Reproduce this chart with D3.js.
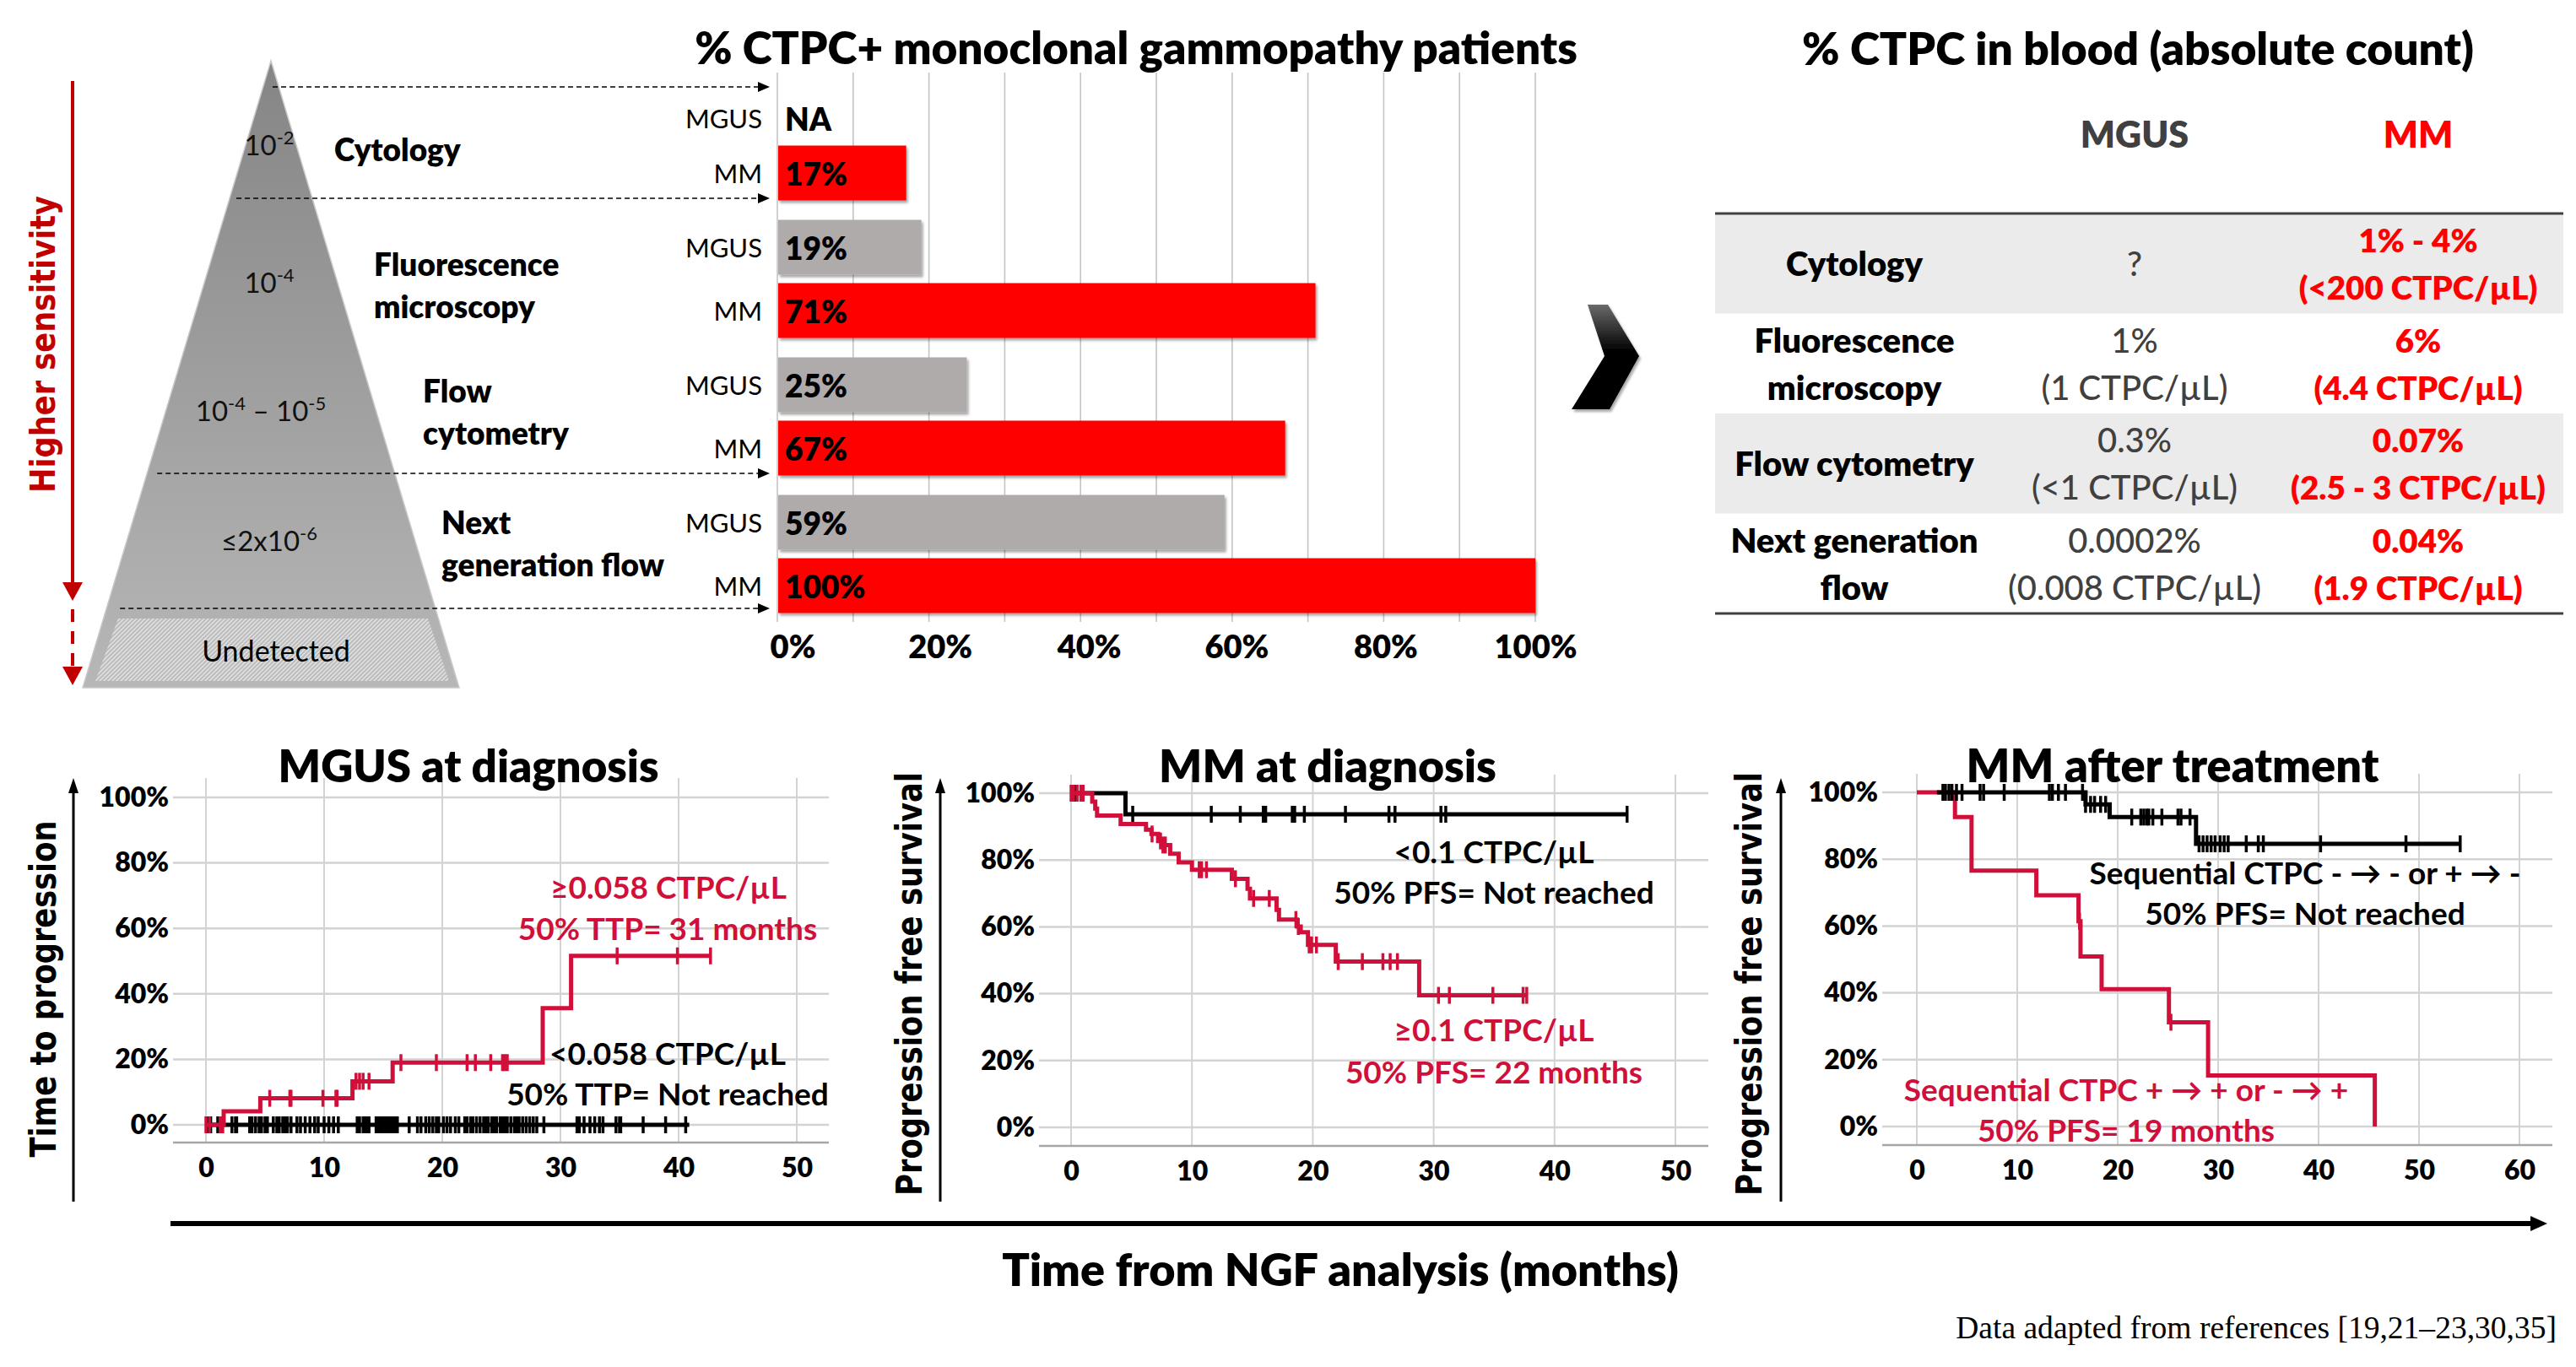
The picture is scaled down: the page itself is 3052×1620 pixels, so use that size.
<!DOCTYPE html>
<html>
<head>
<meta charset="utf-8">
<script src="https://cdn.jsdelivr.net/npm/d3@7"></script>
<style>
  html, body { margin: 0; padding: 0; background: #fff; }
  svg { display: block; }
</style>
</head>
<body>
<svg id="fig"></svg>
<script>
// ---------- data ----------
const methods = ["Cytology", "Fluorescence microscopy", "Flow cytometry", "Next generation flow"];
const groups = ["MGUS", "MM"];
const pctMGUS = [null, 19, 25, 59];
const pctMM = [17, 71, 67, 100];
const barTicks = [0, 20, 40, 60, 80, 100];

// pyramid sensitivity labels ([text, superscript?])
const sensLabels = [
  [["10", 0], ["-2", 1]],
  [["10", 0], ["-4", 1]],
  [["10", 0], ["-4", 1], [" \u2013 10", 0], ["-5", 1]],
  [["\u22642x10", 0], ["-6", 1]]
];
const methodLines = [["Cytology"], ["Fluorescence", "microscopy"], ["Flow", "cytometry"], ["Next", "generation flow"]];

// table
const tableHeader = ["MGUS", "MM"];
const tableRowLabels = [["Cytology"], ["Fluorescence", "microscopy"], ["Flow cytometry"], ["Next generation", "flow"]];
const tableMGUS = [["?"], ["1%", "(1 CTPC/\u00b5L)"], ["0.3%", "(<1 CTPC/\u00b5L)"], ["0.0002%", "(0.008 CTPC/\u00b5L)"]];
const tableMM = [["1% - 4%", "(<200 CTPC/\u00b5L)"], ["6%", "(4.4 CTPC/\u00b5L)"], ["0.07%", "(2.5 - 3 CTPC/\u00b5L)"], ["0.04%", "(1.9 CTPC/\u00b5L)"]];

// MGUS at diagnosis (cumulative progression, %)
const mgusHighSteps = [[0, 0], [1.5, 4.1], [4.6, 8.1], [12.4, 13.3], [15.8, 19.0], [28.5, 35.6], [30.9, 51.6]];
const mgusHighEnd = 42.7;
const mgusHighCensor = [0, 0.3, 1.2, 1.4, 5.4, 7.1, 7.2, 9.9, 11.0, 11.1, 12.7, 13.0, 13.3, 13.8, 16.5, 19.5, 22.1, 22.8, 24.1, 25.1, 25.3, 25.5, 34.8, 39.9, 42.7];
const mgusLowSteps = [[0, 0]];
const mgusLowEnd = 40.9;
const mgusLowCensor = [0.2, 0.4, 1.0, 1.2, 1.4, 2.2, 2.5, 2.6, 3.7, 3.9, 4.2, 4.5, 4.7, 5.0, 5.2, 5.7, 6.0, 6.2, 6.5, 6.7, 6.9, 7.2,
  7.7, 8.0, 8.4, 8.8, 9.2, 9.5, 10.0, 10.4, 10.8, 11.2, 12.8, 13.0, 13.3, 13.4, 13.6, 13.8, 14.4, 14.6, 14.7, 14.9, 15.0, 15.2,
  15.3, 15.4, 15.6, 15.7, 15.9, 16.0, 16.2, 17.2, 17.9, 18.2, 18.6, 18.9, 19.2, 19.5, 19.7, 20.1, 20.4, 20.7, 21.1, 21.4, 21.9,
  22.1, 22.4, 22.6, 22.9, 23.2, 23.5, 23.7, 23.9, 24.2, 24.4, 24.6, 24.9, 25.1, 25.3, 25.5, 25.8, 26.1, 26.3, 26.5, 26.8, 27.1,
  27.4, 27.7, 28.0, 28.6, 31.4, 31.6, 32.0, 32.5, 32.9, 33.3, 33.6, 34.7, 35.0, 35.1, 37.0, 38.9, 40.6];

// MM at diagnosis (PFS, %)
const mmDxHighSteps = [[0, 100], [1.75, 97.5], [2.0, 95.4], [2.15, 93.3], [4.1, 90.8], [6.2, 89.1], [6.65, 87.8], [7.2, 85.7],
  [7.5, 84.5], [8.2, 81.9], [8.9, 79.3], [10.0, 77.1], [13.3, 74.4], [14.6, 71.4], [14.8, 68.5], [17.0, 65.1], [17.2, 62.2],
  [18.7, 60.1], [19.0, 58.4], [19.6, 54.6], [21.9, 49.6], [28.8, 39.5]];
const mmDxHighEnd = 37.7;
const mmDxHighCensor = [0, 0.2, 0.5, 0.8, 1.0, 6.7, 7.4, 7.6, 7.8, 10.6, 10.8, 11.2, 13.6, 15.1, 16.4, 18.6, 18.8, 19.7, 19.9,
  20.3, 22.1, 24.1, 25.8, 26.4, 27.0, 30.4, 31.3, 34.9, 37.4, 37.7];
const mmDxLowSteps = [[0, 100], [4.5, 93.7]];
const mmDxLowEnd = 46.0;
const mmDxLowCensor = [0.1, 0.3, 5.1, 11.6, 14.0, 15.9, 16.1, 18.3, 18.5, 19.3, 22.7, 26.3, 26.8, 30.6, 31.0, 46.0];

// MM after treatment (PFS, %)
const mmTxPosSteps = [[0, 100], [3.8, 92.6], [5.45, 76.6], [11.9, 69.2], [16.1, 61.4], [16.3, 50.9], [18.4, 41.1], [25.1, 31.2],
  [29.0, 15.3], [45.6, 0]];
const mmTxPosEnd = 45.6;
const mmTxPosCensor = [16.2, 25.3];
const mmTxNegSteps = [[2.0, 100], [16.8, 96.4], [19.2, 92.6], [27.8, 84.6]];
const mmTxNegEnd = 54.1;
const mmTxNegCensor = [2.6, 2.85, 3.2, 3.5, 3.95, 4.5, 6.3, 6.65, 8.7, 13.2, 13.5, 14.1, 14.8, 16.5, 16.8, 17.3, 17.7, 18.3,
  18.8, 21.4, 22.3, 22.6, 22.9, 23.1, 23.5, 24.4, 26.0, 26.3, 27.2, 28.1, 28.5, 28.9, 29.3, 29.7, 30.2, 30.6, 31.0, 32.8, 34.0,
  34.5, 40.2, 48.7, 54.1];

// ---------- setup ----------
const W = 3052, H = 1620;
const SANS = "Lato, 'Open Sans', 'DejaVu Sans', sans-serif";
const WIDE = "'DejaVu Sans', Verdana, sans-serif";
const BOLD = 800;
const RED = "#FF0000";
const KM_RED = "#D0103A";
const DARK_RED = "#C00000";

const svg = d3.select("#fig").attr("width", W).attr("height", H);
svg.append("rect").attr("width", W).attr("height", H).attr("fill", "#fff");
const defs = svg.append("defs");

setDefs();
drawPyramid();
drawBars();
drawChevron();
drawTable();
drawKM({
  title: "MGUS at diagnosis", titleX: 555, titleW: 451, yLabel: "Time to progression", yLabelX: 51, yLabelY: 1172, yLabelLen: 399,
  arrowX: 87, xMax: 50, xRange: [244, 944], yRange: [1333, 945], left: 205, right: 982, gridTop: 922, axisY: 1354,
  curves: [
    { steps: mgusLowSteps, end: mgusLowEnd, censor: mgusLowCensor, color: "#000" },
    { steps: mgusHighSteps, end: mgusHighEnd, censor: mgusHighCensor, color: KM_RED }
  ],
  notes: [
    ["\u22650.058 CTPC/\u00b5L", 792, 1050, KM_RED], ["50% TTP= 31 months", 791, 1099, KM_RED],
    ["<0.058 CTPC/\u00b5L", 791, 1247, "#000"], ["50% TTP= Not reached", 791, 1295, "#000"]
  ]
});
drawKM({
  title: "MM at diagnosis", titleX: 1573, titleW: 400, yLabel: "Progression free survival", yLabelX: 1077, yLabelY: 1166, yLabelLen: 502,
  arrowX: 1114, xMax: 50, xRange: [1269, 1985], yRange: [1336, 940], left: 1231, right: 2024, gridTop: 918, axisY: 1358,
  curves: [
    { steps: mmDxLowSteps, end: mmDxLowEnd, censor: mmDxLowCensor, color: "#000" },
    { steps: mmDxHighSteps, end: mmDxHighEnd, censor: mmDxHighCensor, color: KM_RED }
  ],
  notes: [
    ["<0.1 CTPC/\u00b5L", 1770, 1008, "#000"], ["50% PFS= Not reached", 1770, 1056, "#000"],
    ["\u22650.1 CTPC/\u00b5L", 1770, 1219, KM_RED], ["50% PFS= 22 months", 1770, 1269, KM_RED]
  ]
});
drawKM({
  title: "MM after treatment", titleX: 2574, titleW: 489, yLabel: "Progression free survival", yLabelX: 2072, yLabelY: 1166, yLabelLen: 502,
  arrowX: 2110, xMax: 60, xRange: [2271, 2985], yRange: [1335, 939], left: 2230, right: 3024, gridTop: 917, axisY: 1357,
  curves: [
    { steps: mmTxPosSteps, end: mmTxPosEnd, censor: mmTxPosCensor, color: KM_RED },
    { steps: mmTxNegSteps, end: mmTxNegEnd, censor: mmTxNegCensor, color: "#000" }
  ],
  notes: [
    ["Sequential CTPC - \u2192 - or + \u2192 -", 2731, 1033, "#000"], ["50% PFS= Not reached", 2731, 1081, "#000"],
    ["Sequential CTPC + \u2192 + or - \u2192 +", 2519, 1290, KM_RED], ["50% PFS= 19 months", 2519, 1338, KM_RED]
  ]
});
drawFooter();

// scale a text's font size so that it spans the given width
function fitWidth(sel, target) {
  const w = sel.node().getComputedTextLength();
  if (w > 0) sel.attr("font-size", +sel.attr("font-size") * target / w);
  return sel;
}

// ---------- pieces ----------
function setDefs() {
  const pg = defs.append("linearGradient").attr("id", "pyr").attr("x1", 0).attr("y1", 0).attr("x2", 0).attr("y2", 1);
  pg.append("stop").attr("offset", "0%").attr("stop-color", "#858585");
  pg.append("stop").attr("offset", "100%").attr("stop-color", "#b7b7b7");

  const hatch = defs.append("pattern").attr("id", "hatch").attr("patternUnits", "userSpaceOnUse")
    .attr("width", 5).attr("height", 5);
  hatch.append("rect").attr("width", 5).attr("height", 5).attr("fill", "#bcbcbc");
  hatch.append("path").attr("d", "M0,5 L5,0 M-1,1 L1,-1 M4,6 L6,4")
    .attr("stroke", "#e4e4e4").attr("stroke-width", 1.4);

  const cg = defs.append("linearGradient").attr("id", "chev").attr("x1", 0).attr("y1", 0).attr("x2", 0).attr("y2", 1);
  cg.append("stop").attr("offset", "0%").attr("stop-color", "#6a6a6a");
  cg.append("stop").attr("offset", "45%").attr("stop-color", "#000");
  cg.append("stop").attr("offset", "100%").attr("stop-color", "#000");

  const f = defs.append("filter").attr("id", "shadow").attr("x", "-5%").attr("y", "-10%").attr("width", "115%").attr("height", "130%");
  f.append("feDropShadow").attr("dx", 2).attr("dy", 3).attr("stdDeviation", 1.8).attr("flood-opacity", 0.35);
}

function drawPyramid() {
  const g = svg.append("g");
  const apex = [321, 72], baseY = 815, baseL = 98, baseR = 544;
  const edgeL = y => apex[0] - (y - apex[1]) / (baseY - apex[1]) * (apex[0] - baseL);

  // higher sensitivity arrow
  g.append("line").attr("x1", 86).attr("x2", 86).attr("y1", 96).attr("y2", 694)
    .attr("stroke", DARK_RED).attr("stroke-width", 4);
  g.append("path").attr("d", "M74,690 L98,690 L86,712 Z").attr("fill", DARK_RED);
  g.append("line").attr("x1", 86).attr("x2", 86).attr("y1", 722).attr("y2", 792)
    .attr("stroke", DARK_RED).attr("stroke-width", 4).attr("stroke-dasharray", "15,11");
  g.append("path").attr("d", "M74,790 L98,790 L86,812 Z").attr("fill", DARK_RED);
  g.append("text").attr("transform", "translate(51,408) rotate(-90)")
    .attr("text-anchor", "middle").attr("dominant-baseline", "central")
    .attr("font-family", WIDE).attr("font-weight", "bold").attr("font-size", 41)
    .attr("textLength", 352).attr("lengthAdjust", "spacingAndGlyphs")
    .attr("fill", DARK_RED).text("Higher sensitivity");

  // triangle
  g.append("path").attr("d", `M${apex[0]},${apex[1]} L${baseR},${baseY} L${baseL},${baseY} Z`)
    .attr("fill", "url(#pyr)").attr("stroke", "#c9c9c9").attr("stroke-width", 1.5);
  g.append("path").attr("d", "M140,733 L507,733 L532,807 L113,807 Z").attr("fill", "url(#hatch)");
  g.append("text").attr("x", 327).attr("y", 770).attr("text-anchor", "middle").attr("dominant-baseline", "central")
    .attr("font-family", SANS).attr("font-size", 34).text("Undetected");

  // dashed arrows to the bars
  const dashY = [103, 235, 561, 721];
  g.selectAll(".dash").data(dashY).join("line").attr("class", "dash")
    .attr("x1", (d, i) => i === 0 ? apex[0] + 2 : edgeL(d) + 4 + i * 4).attr("x2", 900)
    .attr("y1", d => d).attr("y2", d => d)
    .attr("stroke", "#000").attr("stroke-width", 1.6).attr("stroke-dasharray", "6,4");
  g.selectAll(".dhead").data(dashY).join("path").attr("class", "dhead")
    .attr("d", d => `M898,${d - 6} L912,${d} L898,${d + 6} Z`).attr("fill", "#000");

  // sensitivity labels inside the pyramid
  const sensPos = [[319, 173], [319, 336], [309, 488], [319, 642]];
  sensLabels.forEach((parts, i) => {
    const t = g.append("text").attr("x", sensPos[i][0]).attr("y", sensPos[i][1] + 11)
      .attr("text-anchor", "middle").attr("font-family", SANS).attr("font-size", 33).attr("fill", "#111");
    let up = false;
    parts.forEach(p => {
      const sp = t.append("tspan").text(p[0]);
      if (p[1] && !up) { sp.attr("dy", -13).attr("font-size", 22); up = true; }
      else if (p[1]) { sp.attr("font-size", 22); }
      else if (up) { sp.attr("dy", 13); up = false; }
    });
  });

  // method names
  const methodPos = [[396, 176], [443, 312], [501, 462], [523, 618]];
  methodLines.forEach((lines, i) => {
    lines.forEach((l, j) => {
      g.append("text").attr("x", methodPos[i][0]).attr("y", methodPos[i][1] + j * 50)
        .attr("dominant-baseline", "central").attr("font-family", SANS).attr("font-weight", BOLD)
        .attr("font-size", 37).attr("fill", "#000").text(l);
    });
  });
}

function drawBars() {
  const g = svg.append("g");
  const x = d3.scaleLinear().domain([0, 100]).range([921, 1819]);
  const yG = d3.scaleBand().domain(methods).range([86, 738]);
  const yIn = d3.scalePoint().domain(groups).range([-37.5, 37.5]);
  const barH = 65;

  fitWidth(g.append("text").attr("x", 1346).attr("y", 55).attr("text-anchor", "middle").attr("dominant-baseline", "central")
    .attr("font-family", SANS).attr("font-weight", BOLD).attr("font-size", 52)
    .text("% CTPC+ monoclonal gammopathy patients"), 1046);

  g.selectAll(".grid").data(d3.range(0, 101, 10)).join("line").attr("class", "grid")
    .attr("x1", d => x(d)).attr("x2", d => x(d)).attr("y1", 86).attr("y2", 737)
    .attr("stroke", "#c4c4c4").attr("stroke-width", 1.6);

  const rows = [];
  methods.forEach((m, i) => {
    rows.push({ m, grp: "MGUS", v: pctMGUS[i] });
    rows.push({ m, grp: "MM", v: pctMM[i] });
  });
  // the "NA" row sits a little lower, as there is no bar
  const cy = d => yG(d.m) + yG.bandwidth() / 2 + yIn(d.grp) + (d.v === null ? 10 : 0);

  g.selectAll(".bar").data(rows.filter(d => d.v !== null)).join("rect").attr("class", "bar")
    .attr("x", x(0) + 1).attr("y", d => cy(d) - barH / 2)
    .attr("width", d => x(d.v) - x(0) - 1).attr("height", barH)
    .attr("fill", d => d.grp === "MM" ? RED : "#AFABAB").attr("filter", "url(#shadow)");

  g.selectAll(".val").data(rows).join("text").attr("class", "val")
    .attr("x", x(0) + 9).attr("y", d => cy(d)).attr("dominant-baseline", "central")
    .attr("font-family", SANS).attr("font-weight", BOLD).attr("font-size", 37).attr("fill", "#000")
    .text(d => d.v === null ? "NA" : d.v + "%");

  g.selectAll(".grp").data(rows).join("text").attr("class", "grp")
    .attr("x", 903).attr("y", d => cy(d)).attr("text-anchor", "end").attr("dominant-baseline", "central")
    .attr("font-family", SANS).attr("font-size", 31).attr("fill", "#000").text(d => d.grp);

  const ax = g.append("g").attr("transform", "translate(0,737)")
    .call(d3.axisBottom(x).tickValues(barTicks).tickSize(0).tickPadding(16).tickFormat(d => d + "%"));
  ax.select(".domain").remove();
  ax.selectAll("text").attr("font-family", SANS).attr("font-weight", BOLD).attr("font-size", 38)
    .attr("fill", "#000").attr("dx", (d, i) => [18, 13, 10, 5, 2, 0][i]);
}

function drawChevron() {
  svg.append("path").attr("d", "M1881,361 L1905,361 L1942,422 L1907,485 L1862,485 L1901,422 Z")
    .attr("fill", "url(#chev)").attr("filter", "url(#shadow)");
}

function drawTable() {
  const g = svg.append("g");
  const colX = [2197, 2529, 2865];
  const y = d3.scaleBand().domain(methods).range([253, 727]);
  const lineGap = 56;

  fitWidth(g.append("text").attr("x", 2533).attr("y", 56).attr("text-anchor", "middle").attr("dominant-baseline", "central")
    .attr("font-family", SANS).attr("font-weight", BOLD).attr("font-size", 52)
    .text("% CTPC in blood (absolute count)"), 796);

  g.selectAll(".hdr").data(tableHeader).join("text").attr("class", "hdr")
    .attr("x", (d, i) => colX[i + 1]).attr("y", 158).attr("text-anchor", "middle").attr("dominant-baseline", "central")
    .attr("font-family", SANS).attr("font-weight", BOLD).attr("font-size", 43)
    .attr("fill", (d, i) => i === 0 ? "#404040" : RED).text(d => d);

  g.selectAll(".band").data(methods.filter((d, i) => i % 2 === 0)).join("rect").attr("class", "band")
    .attr("x", 2032).attr("width", 1005).attr("y", d => y(d)).attr("height", y.bandwidth()).attr("fill", "#EBEBEB");
  [253, 727].forEach(v => g.append("line").attr("x1", 2032).attr("x2", 3037).attr("y1", v).attr("y2", v)
    .attr("stroke", "#404040").attr("stroke-width", 3));

  const cells = (lines, ci, fill, weight, size, m) => {
    const mid = y(m) + y.bandwidth() / 2;
    lines.forEach((l, j) => {
      g.append("text").attr("x", colX[ci]).attr("y", mid + (j - (lines.length - 1) / 2) * lineGap)
        .attr("text-anchor", "middle").attr("dominant-baseline", "central")
        .attr("font-family", SANS).attr("font-weight", weight).attr("font-size", size).attr("fill", fill).text(l);
    });
  };
  methods.forEach((m, i) => {
    cells(tableRowLabels[i], 0, "#000", BOLD, 40, m);
    cells(tableMGUS[i], 1, "#404040", 500, 40, m);
    cells(tableMM[i], 2, RED, BOLD, 38.5, m);
  });
}

function stepValue(steps, t) {
  let v = steps[0][1];
  steps.forEach(s => { if (s[0] <= t) v = s[1]; });
  return v;
}

function drawKM(cfg) {
  const g = svg.append("g");
  const x = d3.scaleLinear().domain([0, cfg.xMax]).range(cfg.xRange);
  const y = d3.scaleLinear().domain([0, 100]).range(cfg.yRange);
  const xTicks = d3.range(0, cfg.xMax + 1, 10);
  const yTicks = d3.range(0, 101, 20);

  g.selectAll(".hg").data(yTicks).join("line").attr("class", "hg")
    .attr("x1", cfg.left).attr("x2", cfg.right).attr("y1", d => y(d)).attr("y2", d => y(d))
    .attr("stroke", "#d3d3d3").attr("stroke-width", 2.5);
  g.selectAll(".vg").data(xTicks).join("line").attr("class", "vg")
    .attr("x1", d => x(d)).attr("x2", d => x(d)).attr("y1", cfg.gridTop).attr("y2", cfg.axisY)
    .attr("stroke", "#d3d3d3").attr("stroke-width", 2);
  g.append("line").attr("x1", cfg.left).attr("x2", cfg.right).attr("y1", cfg.axisY).attr("y2", cfg.axisY)
    .attr("stroke", "#a6a6a6").attr("stroke-width", 2.5);

  const ax = g.append("g").attr("transform", `translate(0,${cfg.axisY})`)
    .call(d3.axisBottom(x).tickValues(xTicks).tickSize(0).tickPadding(18));
  const ay = g.append("g").attr("transform", `translate(${cfg.left},0)`)
    .call(d3.axisLeft(y).tickValues(yTicks).tickSize(0).tickPadding(5).tickFormat(d => d + "%"));
  [ax, ay].forEach(a => {
    a.select(".domain").remove();
    a.selectAll("text").attr("font-family", SANS).attr("font-weight", BOLD).attr("font-size", 32).attr("fill", "#000");
  });

  // title
  fitWidth(g.append("text").attr("x", cfg.titleX).attr("y", 906).attr("text-anchor", "middle").attr("dominant-baseline", "central")
    .attr("font-family", SANS).attr("font-weight", BOLD).attr("font-size", 52).text(cfg.title), cfg.titleW);

  // y-axis title with arrow
  g.append("line").attr("x1", cfg.arrowX).attr("x2", cfg.arrowX).attr("y1", 1424).attr("y2", 936)
    .attr("stroke", "#000").attr("stroke-width", 3);
  g.append("path").attr("d", `M${cfg.arrowX - 6},940 L${cfg.arrowX},922 L${cfg.arrowX + 6},940 Z`).attr("fill", "#000");
  g.append("text").attr("transform", `translate(${cfg.yLabelX},${cfg.yLabelY}) rotate(-90)`)
    .attr("text-anchor", "middle").attr("dominant-baseline", "central")
    .attr("font-family", WIDE).attr("font-weight", "bold").attr("font-size", 43)
    .attr("textLength", cfg.yLabelLen).attr("lengthAdjust", "spacingAndGlyphs").text(cfg.yLabel);

  // curves
  const line = d3.line().x(d => x(d[0])).y(d => y(d[1])).curve(d3.curveStepAfter);
  cfg.curves.forEach(c => {
    const pts = c.steps.concat([[c.end, c.steps[c.steps.length - 1][1]]]);
    g.append("path").attr("d", line(pts)).attr("fill", "none").attr("stroke", c.color).attr("stroke-width", 5);
    g.selectAll(null).data(c.censor).join("line")
      .attr("x1", d => x(d)).attr("x2", d => x(d))
      .attr("y1", d => y(stepValue(c.steps, d)) - 10).attr("y2", d => y(stepValue(c.steps, d)) + 10)
      .attr("stroke", c.color).attr("stroke-width", 3.5);
  });

  // annotations
  cfg.notes.forEach(n => {
    g.append("text").attr("x", n[1]).attr("y", n[2]).attr("text-anchor", "middle").attr("dominant-baseline", "central")
      .attr("font-family", SANS).attr("font-weight", 700).attr("font-size", 37).attr("fill", n[3]).text(n[0]);
  });
}

function drawFooter() {
  svg.append("line").attr("x1", 202).attr("x2", 3000).attr("y1", 1450).attr("y2", 1450)
    .attr("stroke", "#000").attr("stroke-width", 6);
  svg.append("path").attr("d", "M2998,1441 L3018,1450 L2998,1459 Z").attr("fill", "#000");
  fitWidth(svg.append("text").attr("x", 1588).attr("y", 1503).attr("text-anchor", "middle").attr("dominant-baseline", "central")
    .attr("font-family", SANS).attr("font-weight", BOLD).attr("font-size", 52).text("Time from NGF analysis (months)"), 802);
  fitWidth(svg.append("text").attr("x", 3029).attr("y", 1573).attr("text-anchor", "end").attr("dominant-baseline", "central")
    .attr("font-family", "'Liberation Serif', 'Times New Roman', serif").attr("font-size", 36)
    .text("Data adapted from references [19,21\u201323,30,35]"), 712);
}
</script>
</body>
</html>
